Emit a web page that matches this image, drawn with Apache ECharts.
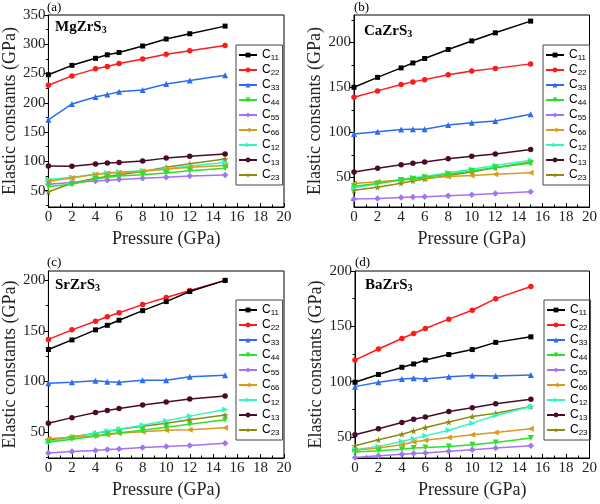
<!DOCTYPE html>
<html><head><meta charset="utf-8">
<script src="https://cdn.jsdelivr.net/npm/echarts@6/dist/echarts.min.js"></script>
<style>html,body{margin:0;padding:0;background:#fff}#c{width:600px;height:504px}</style>
</head><body><div id="c"></div>
<script>
// ---------------- data ----------------
const pressure = [0, 2, 4, 5, 6, 8, 10, 12, 15];
const names = ['C11', 'C22', 'C33', 'C44', 'C55', 'C66', 'C12', 'C13', 'C23'];
const materials = ['MgZrS', 'CaZrS', 'SrZrS', 'BaZrS'];
const panelTags = ['(a)', '(b)', '(c)', '(d)'];
const xTicks = [0, 2, 4, 6, 8, 10, 12, 14, 16, 18, 20];

// (a) MgZrS3
const mgC11 = [248, 264, 276, 282, 286, 297, 309, 318, 331];
const mgC22 = [230, 246, 258, 262, 267, 275, 283, 289, 298];
const mgC33 = [171, 198, 210, 214, 219, 222, 232, 238, 247];
const mgC44 = [57, 61, 70, 73, 75, 77, 80, 84, 88];
const mgC55 = [61, 64, 66.5, 67.5, 69, 71, 73, 75, 76.5];
const mgC66 = [66, 71.5, 78, 79.5, 80.5, 83, 86.5, 90, 93];
const mgC12 = [69, 73, 78, 80, 82, 84, 87.5, 92, 98];
const mgC13 = [92, 91.5, 95.5, 97, 98, 100.5, 105.5, 108.5, 112.5];
const mgC23 = [48, 62.5, 71, 74, 77, 82.5, 90, 96, 104];

// (b) CaZrS3
const caC11 = [150, 161, 171.5, 177, 182, 192, 201.5, 210.5, 223.5];
const caC22 = [139, 146, 153, 156, 158.5, 164, 168, 171, 176];
const caC33 = [98, 100.5, 103, 103.5, 103.5, 108, 110.5, 112.5, 120];
const caC44 = [40, 43, 47, 48.5, 50, 53.5, 57, 61, 65.5];
const caC55 = [26, 26.5, 27.5, 28, 28.5, 29.5, 30.5, 32, 34];
const caC66 = [43, 45, 47, 48.5, 49, 51, 52, 53.5, 55];
const caC12 = [38, 43, 47.5, 49.5, 51, 55, 59, 63, 69];
const caC13 = [56, 60, 64, 65.5, 67, 70.5, 73.5, 76, 81];
const caC23 = [35.5, 39, 43.5, 46, 48, 52, 56, 60.5, 67];

// (c) SrZrS3
const srC11 = [131.5, 141, 151, 155.5, 160.5, 170, 179, 189, 200];
const srC22 = [141.5, 151, 159.5, 164, 168, 176, 183, 190, 200];
const srC33 = [98, 99, 100.5, 99.5, 99, 101, 101, 104.5, 106];
const srC44 = [39.5, 42.5, 45.5, 47.5, 49, 51.5, 54.5, 57.5, 62];
const srC55 = [29, 30.5, 31.5, 32.5, 33, 34.5, 35.5, 36.5, 38.5];
const srC66 = [43, 44.5, 46, 47, 48.5, 50, 51.5, 52, 54];
const srC12 = [40, 44.5, 48.5, 50.5, 52.5, 56.5, 61, 65.5, 72];
const srC13 = [58.5, 64, 69, 71, 73, 76.5, 79.5, 82.5, 85.5];
const srC23 = [41.5, 45, 48.5, 50.5, 52.5, 55.5, 58.5, 62, 66.5];

// (d) BaZrS3
const baC11 = [99.5, 106.5, 113, 116, 119.5, 124.5, 129, 135.5, 140.5];
const baC22 = [119.5, 129.5, 139, 143.5, 148, 156.5, 164.5, 175, 186];
const baC33 = [95.5, 99.5, 102.5, 103, 102.5, 104.5, 105.5, 105, 106];
const baC44 = [36.5, 37.5, 39, 40, 40.5, 41.5, 43, 45, 49];
const baC55 = [31.5, 33, 34.5, 35, 35.5, 37, 38.5, 40, 42];
const baC66 = [38, 40, 43, 45.5, 47, 49.5, 52, 54, 57.5];
const baC12 = [38.5, 41.5, 46, 48.5, 51, 56, 62.5, 69.5, 77.5];
const baC13 = [52, 57.5, 63, 66, 68, 73, 76.5, 80, 84];
const baC23 = [42, 47.5, 52.5, 55.5, 58.5, 63.5, 68.5, 71.5, 77.5];

// y tick labels (major) and minor tick positions per panel
const yTicksA = [50, 100, 150, 200, 250, 300, 350];
const yTicksB = [50, 100, 150, 200];
const yTicksC = [50, 100, 150, 200];
const yTicksD = [50, 100, 150, 200];
const yMinorA = [25, 75, 125, 175, 225, 275, 325];
const yMinorB = [25, 75, 125, 175, 225];
const yMinorC = [25, 75, 125, 175];
const yMinorD = [75, 125, 175];

// ---------------- build ----------------
const panelData = [
  [mgC11, mgC22, mgC33, mgC44, mgC55, mgC66, mgC12, mgC13, mgC23],
  [caC11, caC22, caC33, caC44, caC55, caC66, caC12, caC13, caC23],
  [srC11, srC22, srC33, srC44, srC55, srC66, srC12, srC13, srC23],
  [baC11, baC22, baC33, baC44, baC55, baC66, baC12, baC13, baC23]
];
const yMajor = [yTicksA, yTicksB, yTicksC, yTicksD];
const yMinor = [yMinorA, yMinorB, yMinorC, yMinorD];
const yRange = [[22, 350], [17, 230.3], [24, 209.3], [31, 200]];

const grids = [
  { left: 46, top: 15, width: 238, height: 192 },
  { left: 354, top: 15, width: 238, height: 192 },
  { left: 46, top: 271, width: 238, height: 187 },
  { left: 355, top: 271, width: 238, height: 187 }
];

const colors = ['#000000', '#ff1a1a', '#2b6cf0', '#2ee02e', '#a772f2', '#d99a1e', '#2ef7c0', '#4a0a2a', '#8c8c10'];
const star = 'path://M50,0 L61,35 L98,35 L68,57 L79,91 L50,70 L21,91 L32,57 L2,35 L39,35 Z';
const symbols = ['rect', 'circle', 'triangle', 'triangle', 'diamond', 'triangle', 'triangle', 'circle', star];
const rotates = [0, 0, 0, 180, 0, 90, -90, 0, 0];
const sizes = [5, 5.5, 6, 6, 6.5, 6, 6, 5.5, 7];

const serif = 'Liberation Serif';
const sans = 'Liberation Sans';

const xAxes = [], yAxes = [], series = [], legends = [], titles = [];
grids.forEach((g, i) => {
  g.show = true; g.borderColor = '#000'; g.borderWidth = 1; g.backgroundColor = 'transparent';
  xAxes.push({
    type: 'value', gridIndex: i, min: 0, max: 20, interval: 2,
    name: 'Pressure (GPa)', nameLocation: 'middle', nameGap: 23,
    nameTextStyle: { fontFamily: serif, fontSize: 18, color: '#222' },
    axisLine: { show: true, onZero: false, lineStyle: { color: '#000', width: 1 } },
    axisTick: { show: true, inside: true, length: 4, lineStyle: { color: '#000' } },
    minorTick: { show: true, splitNumber: 2, length: 2.5, lineStyle: { color: '#000' } },
    axisLabel: { fontFamily: serif, fontSize: 15, color: '#222', margin: 3 },
    splitLine: { show: false }
  });
  const [ymin, ymax] = yRange[i];
  yAxes.push({
    type: 'value', gridIndex: i, min: ymin, max: ymax,
    name: 'Elastic constants (GPa)', nameLocation: 'middle', nameGap: 26,
    nameTextStyle: { fontFamily: serif, fontSize: 18, color: '#222' },
    axisLine: { show: true, onZero: false, lineStyle: { color: '#000', width: 1 } },
    axisTick: { show: true, inside: false, length: 4, customValues: yMajor[i], lineStyle: { color: '#000' } },
    axisLabel: { fontFamily: serif, fontSize: 15, color: '#222', margin: 3, customValues: yMajor[i], showMinLabel: true, showMaxLabel: true },
    splitLine: { show: false }
  });
  yAxes.push({
    type: 'value', gridIndex: i, min: ymin, max: ymax, position: 'left',
    axisLine: { show: false, onZero: false },
    axisTick: { show: true, inside: false, length: 2.5, customValues: yMinor[i], lineStyle: { color: '#000' } },
    axisLabel: { show: false },
    splitLine: { show: false }
  });
  panelData[i].forEach((arr, k) => {
    series.push({
      type: 'line', name: names[k], xAxisIndex: i, yAxisIndex: 2 * i,
      data: pressure.map((p, j) => [p, arr[j]]),
      symbol: symbols[k], symbolRotate: rotates[k], symbolSize: sizes[k],
      lineStyle: { color: colors[k], width: 1.5 },
      itemStyle: { color: colors[k] },
      z: 10 - k,
      animation: false
    });
  });
  const lp = [[236, 45], [543, 45], [236, 300], [544, 300]][i];
  legends.push({
    orient: 'vertical', left: lp[0], top: lp[1],
    data: names,
    borderColor: '#444', borderWidth: 1, padding: [3, 3, 3, 2],
    itemWidth: 18, itemHeight: 6, itemGap: 1,
    selectedMode: false,
    formatter: n => '{c|C}{s|' + n.slice(1) + '}',
    textStyle: {
      rich: {
        c: { fontFamily: sans, fontSize: 12, color: '#000', lineHeight: 14 },
        s: { fontFamily: sans, fontSize: 8, color: '#000', lineHeight: 14, verticalAlign: 'bottom', padding: [6, 0, 0, 0] }
      }
    }
  });
  const tp = [[55, 19], [364, 23], [55, 277], [365, 277]][i];
  titles.push({
    text: '{b|' + materials[i] + '}{s|3}', left: tp[0], top: tp[1], padding: 0,
    textStyle: {
      rich: {
        b: { fontFamily: serif, fontWeight: 'bold', fontSize: 15, color: '#000', lineHeight: 16 },
        s: { fontFamily: serif, fontWeight: 'bold', fontSize: 10, color: '#000', lineHeight: 16, verticalAlign: 'bottom', padding: [6, 0, 0, 0] }
      }
    }
  });
  const ap = [[47, 1], [354, 1], [47, 256], [355, 256]][i];
  titles.push({
    text: panelTags[i], left: ap[0], top: ap[1], padding: 0,
    textStyle: { fontFamily: serif, fontWeight: 'normal', fontSize: 13, color: '#000' }
  });
});

const chart = echarts.init(document.getElementById('c'), null, { renderer: 'canvas' });
chart.setOption({
  backgroundColor: '#fff',
  animation: false,
  title: titles,
  grid: grids,
  xAxis: xAxes,
  yAxis: yAxes,
  legend: legends,
  series: series
});
</script></body></html>
